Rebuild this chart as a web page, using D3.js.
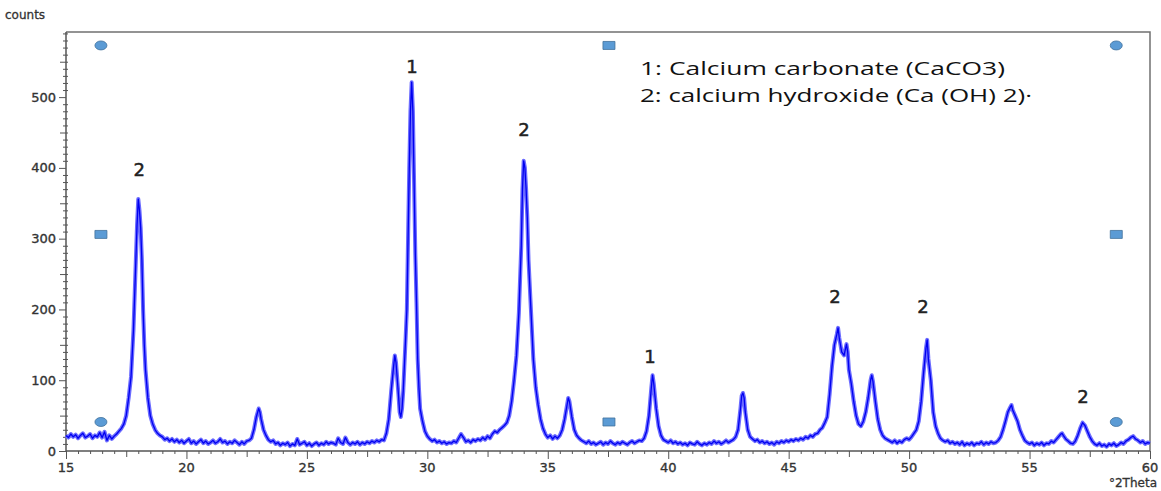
<!DOCTYPE html>
<html>
<head>
<meta charset="utf-8">
<script src="https://cdn.jsdelivr.net/npm/d3@7"></script>
<style>
  html, body { margin: 0; padding: 0; background: #fff; }
  svg { display: block; }
</style>
</head>
<body>
<svg id="chart"></svg>
<script>
// scan: [2theta, counts]
const scan = [
  [15.0,22],[15.1,19],[15.2,24],[15.3,20],[15.4,23],[15.5,18],[15.6,22],[15.7,25],[15.8,19],[15.9,21],
  [16.0,24],[16.1,18],[16.2,22],[16.3,20],[16.4,26],[16.5,19],[16.6,27],[16.7,15],[16.8,22],[16.9,17],
  [17.0,21],[17.1,24],[17.2,28],[17.3,32],[17.4,38],[17.5,50],[17.6,75],[17.7,105],[17.8,170],[17.9,270],
  [17.95,320],[18.0,356],[18.05,340],[18.1,315],[18.15,270],[18.2,200],[18.25,150],[18.3,115],[18.35,95],[18.4,75],
  [18.5,50],[18.6,38],[18.7,30],[18.8,25],[18.9,22],[19.0,20],[19.1,16],[19.2,18],[19.3,14],[19.4,17],
  [19.5,13],[19.6,16],[19.7,12],[19.8,15],[19.9,11],[20.0,14],[20.1,17],[20.2,11],[20.3,14],[20.4,10],
  [20.5,13],[20.6,16],[20.7,11],[20.8,14],[20.9,10],[21.0,12],[21.1,15],[21.2,11],[21.3,13],[21.4,17],
  [21.5,12],[21.6,14],[21.7,10],[21.8,13],[21.9,11],[22.0,15],[22.1,12],[22.2,9],[22.3,13],[22.4,10],
  [22.5,14],[22.6,15],[22.7,18],[22.8,30],[22.9,48],[23.0,60],[23.05,55],[23.1,45],[23.2,30],[23.3,22],
  [23.4,16],[23.5,13],[23.6,15],[23.7,10],[23.8,12],[23.9,8],[24.0,11],[24.1,9],[24.2,12],[24.3,7],
  [24.4,10],[24.5,8],[24.6,17],[24.7,9],[24.8,11],[24.9,13],[25.0,8],[25.1,11],[25.2,7],[25.3,10],
  [25.4,12],[25.5,8],[25.6,11],[25.7,9],[25.8,13],[25.9,10],[26.0,12],[26.1,11],[26.2,9],[26.3,18],
  [26.4,12],[26.5,10],[26.6,19],[26.7,12],[26.8,9],[26.9,12],[27.0,10],[27.1,13],[27.2,9],[27.3,12],
  [27.4,10],[27.5,13],[27.6,11],[27.7,14],[27.8,12],[27.9,15],[28.0,13],[28.1,16],[28.2,15],[28.3,25],
  [28.4,45],[28.5,85],[28.6,120],[28.65,135],[28.7,125],[28.8,80],[28.85,55],[28.9,48],[28.95,60],[29.0,85],
  [29.1,160],[29.15,200],[29.2,300],[29.25,400],[29.3,480],[29.35,521],[29.4,480],[29.45,380],[29.5,280],[29.55,210],
  [29.6,130],[29.65,90],[29.7,60],[29.8,42],[29.9,28],[30.0,21],[30.1,17],[30.2,14],[30.3,16],[30.4,12],
  [30.5,14],[30.6,11],[30.7,13],[30.8,10],[30.9,12],[31.0,11],[31.1,14],[31.2,12],[31.3,18],[31.4,24],
  [31.5,19],[31.6,13],[31.7,15],[31.8,12],[31.9,16],[32.0,14],[32.1,17],[32.2,15],[32.3,19],[32.4,16],
  [32.5,21],[32.6,18],[32.7,24],[32.8,28],[32.9,26],[33.0,30],[33.1,33],[33.2,36],[33.3,40],[33.4,50],
  [33.5,70],[33.6,100],[33.7,135],[33.8,195],[33.9,290],[33.95,370],[34.0,410],[34.05,400],[34.1,370],[34.15,330],
  [34.2,270],[34.3,200],[34.4,130],[34.5,90],[34.6,65],[34.7,45],[34.8,32],[34.9,24],[35.0,19],[35.1,22],
  [35.2,17],[35.3,21],[35.4,18],[35.5,22],[35.6,30],[35.7,45],[35.8,65],[35.85,75],[35.9,70],[36.0,48],
  [36.1,30],[36.2,22],[36.3,18],[36.4,15],[36.5,13],[36.6,11],[36.7,14],[36.8,10],[36.9,12],[37.0,9],
  [37.1,11],[37.2,13],[37.3,9],[37.4,12],[37.5,10],[37.6,14],[37.7,11],[37.8,9],[37.9,12],[38.0,10],
  [38.1,13],[38.2,11],[38.3,9],[38.4,12],[38.5,14],[38.6,11],[38.7,13],[38.8,15],[38.9,14],[39.0,18],
  [39.1,28],[39.2,50],[39.3,90],[39.35,107],[39.4,95],[39.5,60],[39.6,35],[39.7,22],[39.8,16],[39.9,14],
  [40.0,12],[40.1,15],[40.2,11],[40.3,13],[40.4,10],[40.5,12],[40.6,9],[40.7,11],[40.8,8],[40.9,12],
  [41.0,10],[41.1,9],[41.2,13],[41.3,10],[41.4,8],[41.5,11],[41.6,9],[41.7,12],[41.8,10],[41.9,14],
  [42.0,11],[42.1,13],[42.2,10],[42.3,12],[42.4,15],[42.5,12],[42.6,14],[42.7,16],[42.8,20],[42.9,30],
  [43.0,60],[43.05,78],[43.1,82],[43.15,75],[43.2,55],[43.3,30],[43.4,20],[43.5,17],[43.6,14],[43.7,16],
  [43.8,12],[43.9,14],[44.0,11],[44.1,13],[44.2,10],[44.3,12],[44.4,9],[44.5,13],[44.6,11],[44.7,14],
  [44.8,12],[44.9,15],[45.0,13],[45.1,16],[45.2,14],[45.3,17],[45.4,15],[45.5,18],[45.6,16],[45.7,20],
  [45.8,18],[45.9,22],[46.0,20],[46.1,24],[46.2,25],[46.3,30],[46.4,33],[46.5,40],[46.6,48],[46.7,80],
  [46.8,120],[46.9,150],[47.0,165],[47.05,174],[47.1,160],[47.2,140],[47.3,135],[47.4,151],[47.45,140],[47.5,115],
  [47.6,95],[47.7,70],[47.8,50],[47.9,38],[48.0,35],[48.1,42],[48.2,55],[48.3,75],[48.4,100],[48.45,107],
  [48.5,98],[48.6,70],[48.7,45],[48.8,30],[48.9,22],[49.0,18],[49.1,16],[49.2,14],[49.3,12],[49.4,15],
  [49.5,11],[49.6,14],[49.7,12],[49.8,16],[49.9,18],[50.0,16],[50.1,20],[50.2,25],[50.3,30],[50.4,42],
  [50.5,70],[50.6,110],[50.7,145],[50.75,157],[50.8,130],[50.9,100],[51.0,55],[51.1,35],[51.2,25],[51.3,18],
  [51.4,15],[51.5,13],[51.6,15],[51.7,11],[51.8,13],[51.9,10],[52.0,12],[52.1,9],[52.2,13],[52.3,8],
  [52.4,11],[52.5,9],[52.6,12],[52.7,8],[52.8,11],[52.9,10],[53.0,13],[53.1,9],[53.2,12],[53.3,10],
  [53.4,13],[53.5,11],[53.6,12],[53.7,15],[53.8,20],[53.9,30],[54.0,42],[54.1,55],[54.2,62],[54.25,65],
  [54.3,58],[54.4,50],[54.5,42],[54.6,30],[54.7,22],[54.8,15],[54.9,12],[55.0,10],[55.1,12],[55.2,8],
  [55.3,11],[55.4,9],[55.5,12],[55.6,8],[55.7,11],[55.8,10],[55.9,14],[56.0,12],[56.1,16],[56.2,20],
  [56.3,24],[56.35,25],[56.4,22],[56.5,17],[56.6,14],[56.7,11],[56.8,10],[56.9,14],[57.0,22],[57.1,32],
  [57.2,40],[57.3,36],[57.4,28],[57.5,20],[57.6,14],[57.7,10],[57.8,8],[57.9,11],[58.0,7],[58.1,9],
  [58.2,6],[58.3,10],[58.4,8],[58.5,11],[58.6,7],[58.7,9],[58.8,12],[58.9,10],[59.0,14],[59.1,16],
  [59.2,19],[59.3,21],[59.4,17],[59.5,15],[59.6,12],[59.7,14],[59.8,10],[59.9,12],[60.0,11]
];

// phase labels above the peaks
const peakAngles = [18.04, 29.36, 34.01, 39.24, 46.92, 50.58, 57.22];
const peakLabelCounts = [388, 534, 445, 124, 209, 195, 68];
const peakPhases = ['2', '1', '2', '1', '2', '2', '2'];

const legendLines = ['1: Calcium carbonate (CaCO3)', '2: calcium hydroxide (Ca (OH) 2)\u00b7'];

const yTickValues = [0, 100, 200, 300, 400, 500];
const xTickValues = [15, 20, 25, 30, 35, 40, 45, 50, 55, 60];

// blue handle marks sitting on the figure
const handleAngles = [16.45, 37.54, 58.6];
const handleCounts = [573, 306, 41];

class XrdChart {
  constructor(config) {
    this.config = {
      parent: config.parent,
      width: config.width || 1161,
      height: config.height || 491,
      margin: config.margin || {top: 32, right: 11, bottom: 40, left: 66}
    };
    this.init();
  }

  init() {
    let self = this;
    let m = self.config.margin;
    self.svg = d3.select(self.config.parent)
      .attr('width', self.config.width)
      .attr('height', self.config.height);

    self.inner_width = self.config.width - m.left - m.right;
    self.inner_height = self.config.height - m.top - m.bottom;

    self.chart = self.svg.append('g')
      .attr('transform', `translate(${m.left}, ${m.top})`);

    self.xscale = d3.scaleLinear().domain([15, 60]).range([0, self.inner_width]);
    self.yscale = d3.scaleLinear().domain([0, 592]).range([self.inner_height, 0]);

    self.line = d3.line()
      .x(d => self.xscale(d[0]))
      .y(d => self.yscale(d[1]));
  }

  render() {
    let self = this;
    let w = self.inner_width, h = self.inner_height;
    const font = 'DejaVu Sans, Verdana, sans-serif';

    // frame top and right
    self.chart.append('path')
      .attr('d', `M0,0H${w}V${h}`)
      .attr('fill', 'none')
      .attr('stroke', '#707070')
      .attr('stroke-width', 1.5);

    // y axis ticks
    const yMinor = d3.range(0, 591, 10);
    const yg = self.chart.append('g').attr('stroke', '#555').attr('stroke-width', 1);
    yg.selectAll('line').data(yMinor).join('line')
      .attr('x1', d => d % 100 === 0 ? -7 : (d % 50 === 0 ? -6 : -3))
      .attr('x2', d => d % 100 === 0 ? 0 : 2)
      .attr('y1', d => self.yscale(d) + 0.5)
      .attr('y2', d => self.yscale(d) + 0.5);
    yg.append('line')
      .attr('x1', 0).attr('x2', 0).attr('y1', 0).attr('y2', h)
      .attr('stroke-width', 1.5);

    self.chart.append('g').selectAll('text').data(yTickValues).join('text')
      .attr('x', -10)
      .attr('y', d => self.yscale(d))
      .attr('dy', '0.35em')
      .attr('text-anchor', 'end')
      .attr('font-family', font)
      .attr('font-size', 13)
      .attr('fill', '#333')
      .attr('stroke', '#333')
      .attr('stroke-width', 0.35)
      .text(d => d);

    // x axis ticks
    const xMinor = d3.range(15, 60.01, 0.5);
    const xg = self.chart.append('g').attr('stroke', '#555').attr('stroke-width', 1);
    xg.selectAll('line').data(xMinor).join('line')
      .attr('x1', d => self.xscale(d) + 0.5)
      .attr('x2', d => self.xscale(d) + 0.5)
      .attr('y1', h)
      .attr('y2', d => h + (d % 5 === 0 ? 8 : (d % 2.5 === 0 ? 6 : 3)));
    xg.append('line')
      .attr('x1', 0).attr('x2', w).attr('y1', h).attr('y2', h)
      .attr('stroke-width', 1.5);

    self.chart.append('g').selectAll('text').data(xTickValues).join('text')
      .attr('x', d => self.xscale(d))
      .attr('y', h + 21)
      .attr('text-anchor', 'middle')
      .attr('font-family', font)
      .attr('font-size', 13)
      .attr('fill', '#333')
      .attr('stroke', '#333')
      .attr('stroke-width', 0.35)
      .text(d => d);

    // axis titles
    self.svg.append('text')
      .attr('x', 5).attr('y', 19)
      .attr('font-family', font).attr('font-size', 12).attr('fill', '#333')
      .attr('stroke', '#333').attr('stroke-width', 0.3)
      .text('counts');
    self.svg.append('text')
      .attr('x', self.config.width - 4).attr('y', 487)
      .attr('text-anchor', 'end')
      .attr('font-family', font).attr('font-size', 12).attr('fill', '#333')
      .attr('stroke', '#333').attr('stroke-width', 0.3)
      .text('\u00b02Theta');

    // pattern, a wide pale stroke under a thin dark one
    self.chart.append('path')
      .attr('d', self.line(scan))
      .attr('fill', 'none')
      .attr('stroke', '#6b6bff')
      .attr('stroke-width', 4)
      .attr('stroke-linejoin', 'round');
    self.chart.append('path')
      .attr('d', self.line(scan))
      .attr('fill', 'none')
      .attr('stroke', '#0000f0')
      .attr('stroke-width', 1.3)
      .attr('stroke-linejoin', 'round');

    // peak labels
    self.chart.append('g').selectAll('text').data(peakAngles).join('text')
      .attr('x', d => self.xscale(d))
      .attr('y', (d, i) => self.yscale(peakLabelCounts[i]))
      .attr('text-anchor', 'middle')
      .attr('font-family', font)
      .attr('font-size', 18)
      .attr('fill', '#222')
      .attr('stroke', '#222')
      .attr('stroke-width', 0.5)
      .text((d, i) => peakPhases[i]);

    // legend
    self.svg.append('g').selectAll('text').data(legendLines).join('text')
      .attr('x', 640)
      .attr('y', (d, i) => 75 + i * 27)
      .attr('font-family', 'Open Sans, sans-serif')
      .attr('font-size', 18)
      .attr('fill', '#111')
      .attr('textLength', (d, i) => i === 0 ? 365 : 392)
      .attr('lengthAdjust', 'spacingAndGlyphs')
      .text(d => d);

    // handles: circles at corners, squares at the sides
    const handles = [];
    handleCounts.forEach((c, ci) => handleAngles.forEach((a, ai) => {
      if (ci === 1 && ai === 1) return;
      handles.push({a, c, round: (ci !== 1 && ai !== 1)});
    }));
    self.chart.append('g').selectAll('.handle').data(handles).join('path')
      .attr('class', 'handle')
      .attr('d', d => {
        let x = self.xscale(d.a), y = self.yscale(d.c);
        if (d.round) {
          return `M${x - 6},${y}a6,4.5 0 1,0 12,0a6,4.5 0 1,0 -12,0Z`;
        }
        return `M${x - 6},${y - 4}h12v8h-12Z`;
      })
      .attr('fill', '#5b9bd5')
      .attr('stroke', '#41719c')
      .attr('stroke-width', 0.8);
  }
}

let chart = new XrdChart({parent: '#chart', width: 1161, height: 491});
chart.render();
</script>
</body>
</html>
